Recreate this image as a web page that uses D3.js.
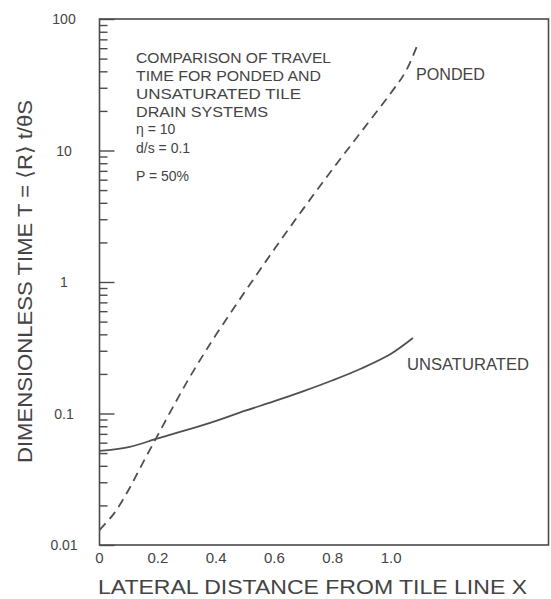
<!DOCTYPE html>
<html>
<head>
<meta charset="utf-8">
<script src="https://cdn.jsdelivr.net/npm/d3@7"></script>
<style>
  html, body { margin: 0; padding: 0; background: #fff; }
  svg { display: block; }
  text { font-family: "Liberation Sans", "DejaVu Sans", sans-serif; fill: #444; }
</style>
</head>
<body>
<svg id="chart" width="551" height="599"></svg>
<script>
// Travel time for ponded vs unsaturated tile drain systems
const ponded = [
  { x: 0.000, t: 0.0130 },
  { x: 0.050, t: 0.0174 },
  { x: 0.100, t: 0.0263 },
  { x: 0.150, t: 0.0427 },
  { x: 0.200, t: 0.0684 },
  { x: 0.250, t: 0.110 },
  { x: 0.300, t: 0.174 },
  { x: 0.350, t: 0.266 },
  { x: 0.400, t: 0.398 },
  { x: 0.500, t: 0.851 },
  { x: 0.600, t: 1.78 },
  { x: 0.700, t: 3.63 },
  { x: 0.800, t: 7.24 },
  { x: 0.900, t: 14.1 },
  { x: 1.000, t: 27.5 },
  { x: 1.050, t: 39.8 },
  { x: 1.093, t: 65.6 }
];
const unsaturated = [
  { x: 0.000, t: 0.052 },
  { x: 0.100, t: 0.0556 },
  { x: 0.200, t: 0.0646 },
  { x: 0.300, t: 0.075 },
  { x: 0.400, t: 0.088 },
  { x: 0.500, t: 0.105 },
  { x: 0.600, t: 0.124 },
  { x: 0.700, t: 0.148 },
  { x: 0.800, t: 0.179 },
  { x: 0.900, t: 0.221 },
  { x: 1.000, t: 0.285 },
  { x: 1.075, t: 0.375 }
];
const xTickValues = [0, 0.2, 0.4, 0.6, 0.8, 1.0];
const xTickLabels = ["0", "0.2", "0.4", "0.6", "0.8", "1.0"];
const yTickValues = [0.01, 0.1, 1, 10, 100];
const yTickLabels = ["0.01", "0.1", "1", "10", "100"];
const noteLines = [
  "COMPARISON OF TRAVEL",
  "TIME FOR PONDED AND",
  "UNSATURATED  TILE",
  "DRAIN  SYSTEMS",
  "η = 10",
  "d/s = 0.1",
  "P = 50%"
];

const svg = d3.select("#chart");
const plotLeft = 99.5, plotRight = 548.5, plotTop = 19, plotBottom = 545;
const xMax = 1.54;

const x = d3.scaleLinear().domain([0, xMax]).range([plotLeft, plotRight]);
const y = d3.scaleLog().domain([0.01, 100]).range([plotBottom, plotTop]);

const ink = "#4a4a4a";

// frame
svg.append("rect")
  .attr("x", plotLeft).attr("y", plotTop)
  .attr("width", plotRight - plotLeft).attr("height", plotBottom - plotTop)
  .attr("fill", "none").attr("stroke", ink).attr("stroke-width", 1.6);

// log ticks drawn inward from the left axis
const minorTicks = [];
for (let d = 0.01; d < 99; d *= 10) {
  for (let k = 2; k <= 9; k++) minorTicks.push(d * k);
}
const yMinor = d3.axisRight(y).tickValues(minorTicks).tickSize(8).tickFormat("");
const yMajor = d3.axisRight(y).tickValues(yTickValues).tickSize(15).tickFormat("");
[yMinor, yMajor].forEach(ax => {
  const g = svg.append("g").attr("transform", `translate(${plotLeft},0)`).call(ax);
  g.select(".domain").remove();
  g.selectAll("line").attr("stroke", ink).attr("stroke-width", 1.4);
});

// y tick labels
svg.append("g").selectAll("text")
  .data(yTickValues)
  .join("text")
  .attr("x", 64)
  .attr("y", d => y(d) + 5)
  .attr("text-anchor", "middle")
  .attr("font-size", 14)
  .text((d, i) => yTickLabels[i]);

// x tick labels (no tick marks on the bottom edge)
svg.append("g").selectAll("text")
  .data(xTickValues)
  .join("text")
  .attr("x", d => x(d))
  .attr("y", 563)
  .attr("text-anchor", "middle")
  .attr("font-size", 15)
  .text((d, i) => xTickLabels[i]);

// curves
const line = d3.line()
  .x(d => x(d.x))
  .y(d => y(d.t))
  .curve(d3.curveCatmullRom.alpha(0.5));

svg.append("path")
  .datum(unsaturated)
  .attr("d", line)
  .attr("fill", "none")
  .attr("stroke", "#505050")
  .attr("stroke-width", 1.8);

svg.append("path")
  .datum(ponded)
  .attr("d", line)
  .attr("fill", "none")
  .attr("stroke", "#505050")
  .attr("stroke-width", 1.8)
  .attr("stroke-dasharray", "9,6");

// curve labels
svg.append("text")
  .attr("x", 416).attr("y", 80)
  .attr("font-size", 16)
  .attr("textLength", 69).attr("lengthAdjust", "spacingAndGlyphs")
  .text("PONDED");
svg.append("text")
  .attr("x", 407).attr("y", 370)
  .attr("font-size", 16)
  .attr("textLength", 122).attr("lengthAdjust", "spacingAndGlyphs")
  .text("UNSATURATED");

// annotation block
const noteY = [63, 81, 99, 117, 134, 153, 181];
const noteLen = [195, 185, 165, 132, 0, 0, 0];
svg.append("g").selectAll("text")
  .data(noteLines)
  .join("text")
  .attr("x", 136)
  .attr("y", (d, i) => noteY[i])
  .attr("font-size", 14)
  .each(function (d, i) {
    if (noteLen[i]) d3.select(this).attr("textLength", noteLen[i]).attr("lengthAdjust", "spacingAndGlyphs");
  })
  .text(d => d);

// axis titles
svg.append("text")
  .attr("x", 98).attr("y", 594)
  .attr("font-size", 21)
  .attr("textLength", 429).attr("lengthAdjust", "spacingAndGlyphs")
  .text("LATERAL  DISTANCE  FROM  TILE  LINE  X");

svg.append("text")
  .attr("transform", "translate(32,463) rotate(-90)")
  .attr("font-size", 21)
  .attr("textLength", 363).attr("lengthAdjust", "spacingAndGlyphs")
  .text("DIMENSIONLESS  TIME  T = ⟨R⟩ t/θS");
</script>
</body>
</html>
